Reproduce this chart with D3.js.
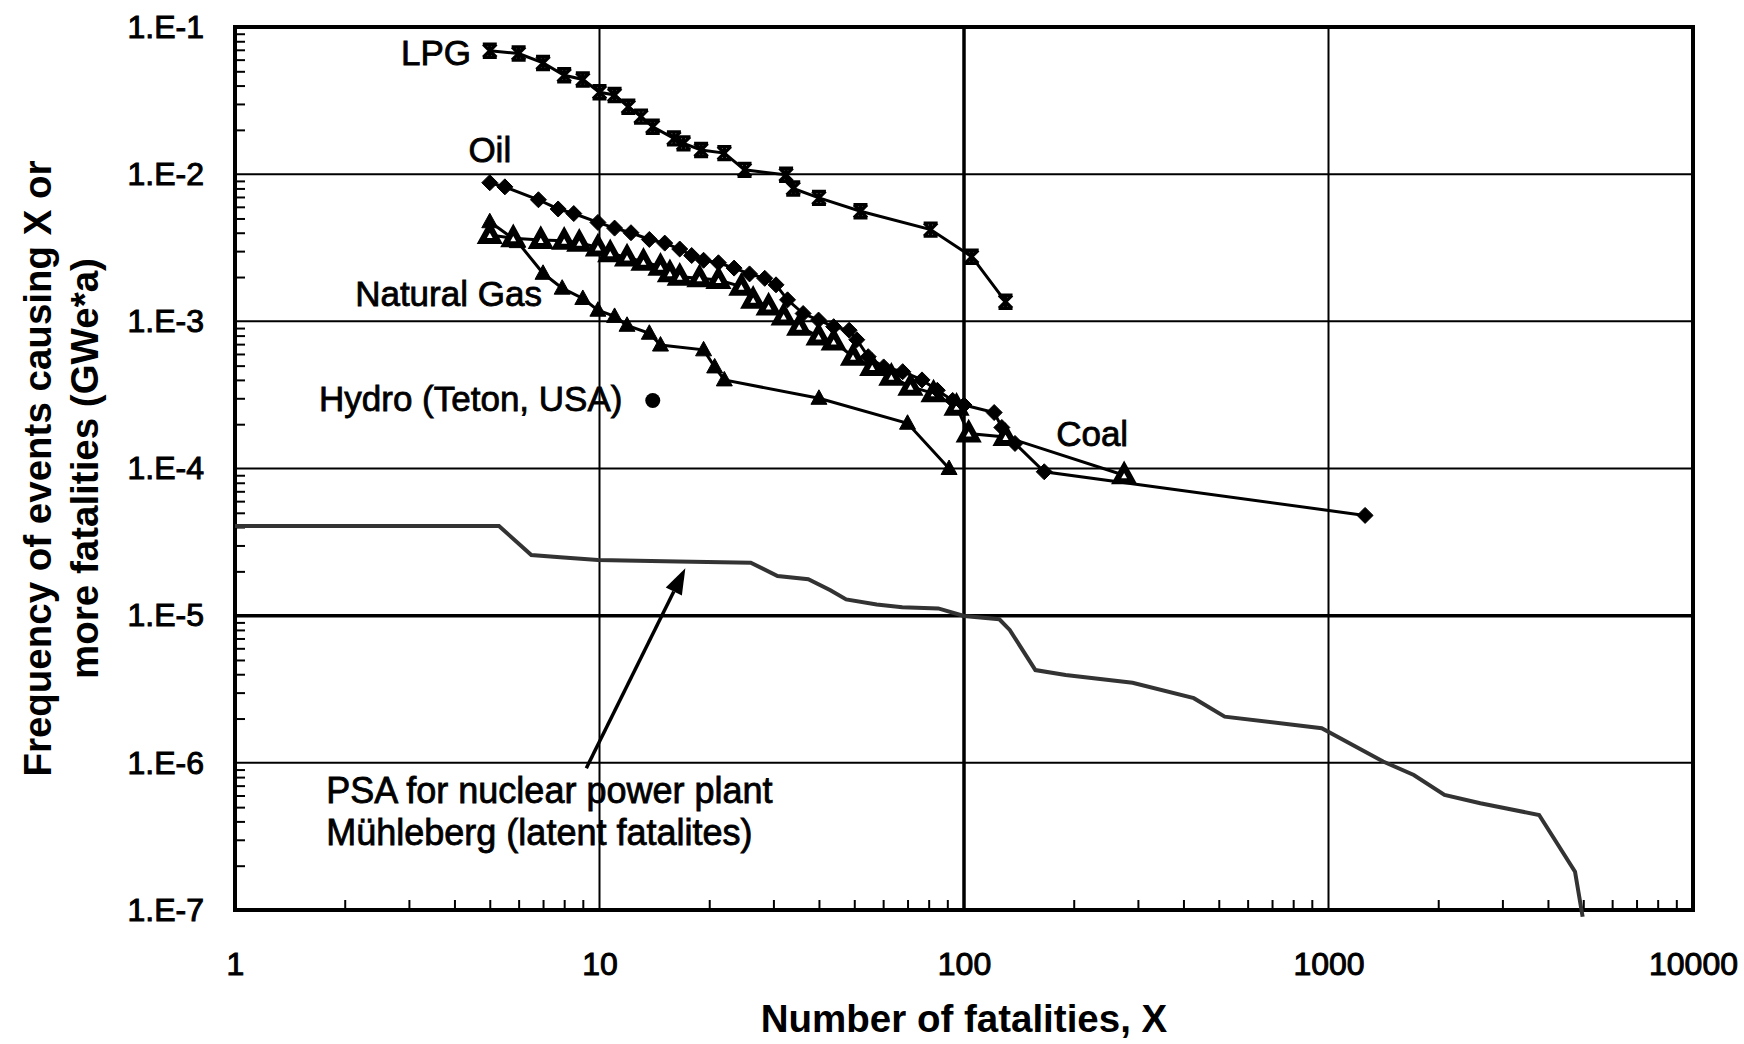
<!DOCTYPE html>
<html>
<head>
<meta charset="utf-8">
<script src="https://cdn.jsdelivr.net/npm/d3@7"></script>
<style>
  body { margin: 0; background: #fff; }
  svg text { font-family: "Liberation Sans", Arial, sans-serif; fill: #000; }
</style>
</head>
<body>
<div id="chart"></div>
<script>
// fatalities X / frequency (per GWe*a)
const lpgX = [5, 6, 7, 8, 9, 10, 11, 12, 13, 14, 16, 17, 19, 22, 25, 32.5, 34, 40, 52, 81, 105, 130]
const lpgY = [0.069, 0.066, 0.057, 0.047, 0.044, 0.036, 0.0345, 0.0287, 0.0246, 0.021, 0.0175, 0.0162, 0.0146, 0.0139, 0.0107, 0.0099, 0.008, 0.0069, 0.0056, 0.0042, 0.00275, 0.00136]

const oilX = [5, 5.5, 6.8, 7.7, 8.5, 9.9, 11, 12.2, 13.7, 15.1, 16.6, 17.9, 19.3, 21.2, 23.4, 25.8, 28.4, 30.5, 32.8, 36.2, 39.9, 43.9, 48.4, 50.8, 54.6, 60.2, 67.9, 76.7, 84.5, 93.1, 100, 121, 127, 138, 166, 1260]
const oilY = [8.75e-3, 8.2e-3, 6.7e-3, 5.8e-3, 5.4e-3, 4.7e-3, 4.3e-3, 4.0e-3, 3.6e-3, 3.4e-3, 3.1e-3, 2.8e-3, 2.6e-3, 2.5e-3, 2.3e-3, 2.1e-3, 1.96e-3, 1.77e-3, 1.4e-3, 1.13e-3, 1.02e-3, 9.2e-4, 8.7e-4, 7.5e-4, 5.75e-4, 4.9e-4, 4.55e-4, 4.0e-4, 3.4e-4, 2.9e-4, 2.7e-4, 2.4e-4, 1.9e-4, 1.48e-4, 9.5e-5, 4.8e-5]

const coalX = [5, 5.8, 6.9, 8, 8.8, 9.9, 10.7, 11.9, 13.2, 14.7, 15.6, 16.6, 18.8, 21.2, 24.5, 26.4, 29.1, 32, 35.3, 39.9, 43.9, 49.6, 56, 63.2, 71.3, 82.5, 95.4, 103, 130, 275]
const coalY = [3.86e-3, 3.67e-3, 3.57e-3, 3.53e-3, 3.42e-3, 3.18e-3, 2.9e-3, 2.72e-3, 2.54e-3, 2.35e-3, 2.12e-3, 2.01e-3, 1.96e-3, 1.91e-3, 1.72e-3, 1.4e-3, 1.26e-3, 1.08e-3, 9.2e-4, 7.9e-4, 7.3e-4, 5.75e-4, 4.9e-4, 4.2e-4, 3.6e-4, 3.24e-4, 2.63e-4, 1.73e-4, 1.64e-4, 9.0e-5]

const gasX = [5, 5.95, 7, 7.9, 9, 9.9, 11, 11.9, 13.7, 14.7, 19.3, 20.7, 22, 40, 70, 91]
const gasY = [4.75e-3, 3.48e-3, 2.12e-3, 1.68e-3, 1.43e-3, 1.19e-3, 1.08e-3, 9.4e-4, 8.3e-4, 6.9e-4, 6.4e-4, 4.9e-4, 4.0e-4, 3.0e-4, 2.03e-4, 1.0e-4]

const hydroX = [14]
const hydroY = [2.9e-4]

const nucX = [1, 5.3, 6.5, 7.8, 9.9, 16.4, 26, 30.8, 37.4, 43, 47.5, 57.6, 67.7, 85, 100, 125, 133.5, 157, 190, 290, 427, 519, 958, 1412, 1714, 2081, 2609, 3783, 4236, 4746, 4980]
const nucY = [4.07e-5, 4.07e-5, 2.58e-5, 2.49e-5, 2.39e-5, 2.33e-5, 2.29e-5, 1.86e-5, 1.77e-5, 1.49e-5, 1.29e-5, 1.19e-5, 1.14e-5, 1.12e-5, 9.95e-6, 9.45e-6, 8.0e-6, 4.27e-6, 3.95e-6, 3.5e-6, 2.75e-6, 2.06e-6, 1.72e-6, 1.02e-6, 8.27e-7, 6.05e-7, 5.31e-7, 4.42e-7, 2.84e-7, 1.82e-7, 9.0e-8]

const xTickLabels = ['1', '10', '100', '1000', '10000']
const yTickLabels = ['1.E-7', '1.E-6', '1.E-5', '1.E-4', '1.E-3', '1.E-2', '1.E-1']

const width = 1744, height = 1044
const margin = { top: 27, right: 51, bottom: 134, left: 235 }
const font = '"Liberation Sans", Arial, sans-serif'

const svg = d3.select('#chart').append('svg')
  .attr('width', width)
  .attr('height', height)
  .style('background', '#fff')

const x = d3.scaleLog().domain([1, 10000]).range([margin.left, width - margin.right])
const y = d3.scaleLog().domain([1e-7, 1e-1]).range([height - margin.bottom, margin.top])

const xMajor = xTickLabels.map(Number)
const yMajor = yTickLabels.map(s => Math.pow(10, +s.split('E')[1]))
const isDecade = v => Math.abs(Math.log10(v) - Math.round(Math.log10(v))) < 1e-9
const xMinor = x.ticks().filter(v => !isDecade(v))
const yMinor = y.ticks().filter(v => !isDecade(v))

// gridlines (100 and 1.E-5 are drawn heavier in the original)
const grid = svg.append('g')
grid.selectAll('line.gx')
  .data(xMajor.slice(1, -1))
  .join('line')
  .attr('x1', d => x(d)).attr('x2', d => x(d))
  .attr('y1', y(1e-1)).attr('y2', y(1e-7))
  .attr('stroke', '#000')
  .attr('stroke-width', d => d === 100 ? 3.5 : 2)
grid.selectAll('line.gy')
  .data(yMajor.slice(1, -1))
  .join('line')
  .attr('x1', x(1)).attr('x2', x(10000))
  .attr('y1', d => y(d)).attr('y2', d => y(d))
  .attr('stroke', '#000')
  .attr('stroke-width', d => Math.round(Math.log10(d)) === -5 ? 3.5 : 2)

// minor ticks, pointing into the plot
const minorX = svg.append('g')
  .attr('transform', `translate(0,${y(1e-7)})`)
  .call(d3.axisBottom(x).tickValues(xMinor).tickSize(-10).tickFormat(''))
const minorY = svg.append('g')
  .attr('transform', `translate(${x(1)},0)`)
  .call(d3.axisLeft(y).tickValues(yMinor).tickSize(-10).tickFormat(''))
;[minorX, minorY].forEach(g => {
  g.select('.domain').remove()
  g.selectAll('line').attr('stroke', '#000').attr('stroke-width', 2)
})

// tick labels
const xLab = svg.append('g')
  .attr('transform', `translate(0,${y(1e-7)})`)
  .call(d3.axisBottom(x).tickValues(xMajor).tickSize(0).tickPadding(42)
    .tickFormat((d, i) => xTickLabels[i]))
const yLab = svg.append('g')
  .attr('transform', `translate(${x(1)},0)`)
  .call(d3.axisLeft(y).tickValues(yMajor).tickSize(0).tickPadding(31)
    .tickFormat((d, i) => yTickLabels[i]))
;[xLab, yLab].forEach(g => {
  g.select('.domain').remove()
  g.attr('font-family', font).attr('font-size', 32)
  g.selectAll('text').attr('fill', '#000').attr('stroke', '#000').attr('stroke-width', 1)
})

// frame
svg.append('rect')
  .attr('x', x(1)).attr('y', y(1e-1))
  .attr('width', x(10000) - x(1))
  .attr('height', y(1e-7) - y(1e-1))
  .attr('fill', 'none')
  .attr('stroke', '#000')
  .attr('stroke-width', 4)

// axis titles
svg.append('text')
  .attr('x', (x(1) + x(10000)) / 2)
  .attr('y', 1032)
  .attr('text-anchor', 'middle')
  .attr('font-size', 38.5)
  .attr('font-weight', 'bold')
  .text('Number of fatalities, X')

const yTitle = svg.append('text')
  .attr('transform', `translate(0,${(y(1e-1) + y(1e-7)) / 2}) rotate(-90)`)
  .attr('text-anchor', 'middle')
  .attr('font-size', 38.5)
  .attr('font-weight', 'bold')
yTitle.append('tspan').attr('x', 0).attr('y', 51).text('Frequency of events causing X or')
yTitle.append('tspan').attr('x', 0).attr('y', 98).text('more fatalities (GWe*a)')

// series
const line = d3.line().x(d => x(d[0])).y(d => y(d[1]))
const pairs = (xs, ys) => xs.map((v, i) => [v, ys[i]])

const markers = {
  star: 'M-6.5,-6.5L6.5,6.5M6.5,-6.5L-6.5,6.5M0,-7.5L0,7.5M-7,-6.5L7,-6.5M-7,6.5L7,6.5',
  diamond: 'M0,-8L8,0L0,8L-8,0Z',
  triangle: 'M0,-8.5L8,6L-8,6Z',
}

function drawSeries(xs, ys, shape, fill) {
  const pts = pairs(xs, ys)
  const g = svg.append('g')
  g.append('path')
    .datum(pts)
    .attr('d', line)
    .attr('fill', 'none')
    .attr('stroke', '#000')
    .attr('stroke-width', 3)
  g.selectAll('path.mk')
    .data(pts)
    .join('path')
    .attr('class', 'mk')
    .attr('transform', d => `translate(${x(d[0])},${y(d[1])})`)
    .attr('d', markers[shape])
    .attr('fill', fill)
    .attr('stroke', '#000')
    .attr('stroke-width', shape === 'star' ? 3.4 : fill === '#fff' ? 6 : 1)
    .attr('stroke-linejoin', 'miter')
}

// nuclear PSA curve, grey line without markers
svg.append('path')
  .datum(pairs(nucX, nucY))
  .attr('d', line)
  .attr('fill', 'none')
  .attr('stroke', '#333')
  .attr('stroke-width', 4)

drawSeries(lpgX, lpgY, 'star', 'none')
drawSeries(gasX, gasY, 'triangle', '#000')
drawSeries(coalX, coalY, 'triangle', '#fff')
drawSeries(oilX, oilY, 'diamond', '#000')

svg.selectAll('circle.hydro')
  .data(pairs(hydroX, hydroY))
  .join('circle')
  .attr('cx', d => x(d[0]))
  .attr('cy', d => y(d[1]))
  .attr('r', 7.5)
  .attr('fill', '#000')

// labels
const labels = svg.append('g').attr('font-size', 35)
  .attr('stroke', '#000').attr('stroke-width', 0.8)
const addLabel = (text, lx, ly, anchor) => labels.append('text')
  .attr('x', x(lx)).attr('y', y(ly))
  .attr('text-anchor', anchor)
  .text(text)
addLabel('LPG', 4.44, 0.0552, 'end')
addLabel('Oil', 5, 0.0121, 'middle')
addLabel('Natural Gas', 6.95, 1.27e-3, 'end')
addLabel('Hydro (Teton, USA)', 1.7, 2.46e-4, 'start')
addLabel('Coal', 179, 1.42e-4, 'start')

const psa = labels.append('text')
  .attr('font-size', 36)
  .attr('x', x(1.78)).attr('y', y(5.34e-7))
psa.append('tspan').attr('x', x(1.78)).text('PSA for nuclear power plant')
psa.append('tspan').attr('x', x(1.78)).attr('dy', 42).text('Mühleberg (latent fatalites)')

// arrow pointing at the PSA curve
const tail = [x(9.2), y(9.2e-7)]
const tip = [x(17.2), y(2.1e-5)]
const ang = Math.atan2(tip[1] - tail[1], tip[0] - tail[0])
const headLen = 26, headW = 9
const base = [tip[0] - headLen * Math.cos(ang), tip[1] - headLen * Math.sin(ang)]
svg.append('line')
  .attr('x1', tail[0]).attr('y1', tail[1])
  .attr('x2', base[0]).attr('y2', base[1])
  .attr('stroke', '#000')
  .attr('stroke-width', 3.5)
svg.append('path')
  .attr('d', `M${tip[0]},${tip[1]}` +
    `L${base[0] + headW * Math.sin(ang)},${base[1] - headW * Math.cos(ang)}` +
    `L${base[0] - headW * Math.sin(ang)},${base[1] + headW * Math.cos(ang)}Z`)
  .attr('fill', '#000')
</script>
</body>
</html>
